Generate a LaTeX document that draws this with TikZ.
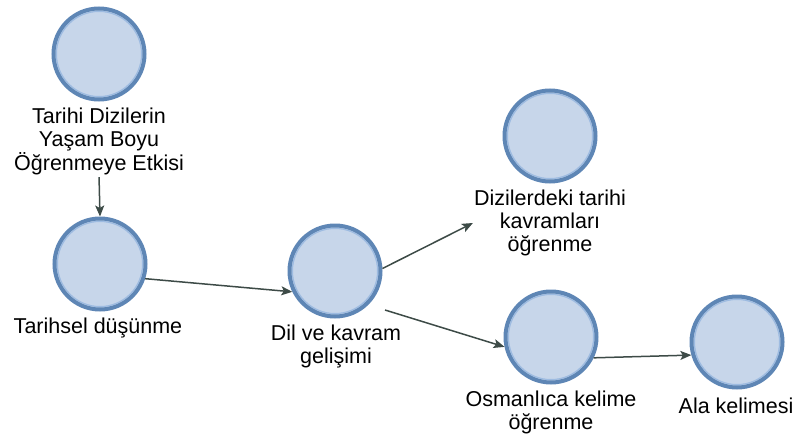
\documentclass[tikz,border=0pt]{standalone}
\usepackage{fontspec}
\setmainfont{Liberation Sans}
\usetikzlibrary{arrows.meta,calc}
\definecolor{bubfill}{HTML}{C7D6EA}
\definecolor{bubedge}{HTML}{5E86B5}
\definecolor{bubring}{HTML}{9DBBE1}
\definecolor{arrowcol}{HTML}{3D4B47}
\newcommand{\lstrut}{\rule[-4.5pt]{0pt}{23pt}}
\tikzset{
  bubble/.style={circle, minimum size=91pt, inner sep=0pt, fill=bubfill, draw=bubedge, line width=4pt,
    path picture={\draw[bubring, line width=1.2pt] (path picture bounding box.center) circle (42.6pt);}},
  lbl/.style={inner sep=0pt, align=center, font=\fontsize{21.5pt}{23pt}\selectfont},
  link/.style={draw=arrowcol, line width=1.5pt, -{Stealth[length=11pt, width=9pt, inset=2.5pt]}}
}
\begin{document}
\begin{tikzpicture}[x=1pt, y=-1pt]
\useasboundingbox (0,0) rectangle (797,439);
\node[bubble] (A) at (99,54) {};
\node[bubble] (B) at (100,264) {};
\node[bubble] (C) at (335,271) {};
\node[bubble] (D) at (550,136) {};
\node[bubble] (E) at (551,337) {};
\node[bubble] (F) at (737,342) {};
\node[lbl] (At) at (99,140) {\lstrut Tarihi Dizilerin\\\lstrut Yaşam Boyu\\\lstrut Öğrenmeye Etkisi};
\node[lbl] (Bt) at (98,327) {\lstrut Tarihsel düşünme};
\node[lbl] (Ct) at (336,345) {\lstrut Dil ve kavram\\\lstrut gelişimi};
\node[lbl] (Dt) at (550,221) {\lstrut Dizilerdeki tarihi\\\lstrut kavramları\\\lstrut öğrenme};
\node[lbl] (Et) at (551,411) {\lstrut Osmanlıca kelime\\\lstrut öğrenme};
\node[lbl] (Ft) at (736,406) {\lstrut Ala kelimesi};
\draw[link, shorten <=2pt] (At.south) -- (B.north);
\draw[link] (B.-18) -- (C.206);
\draw[link] (C.3) -- ([xshift=-1pt,yshift=-2pt]Dt.west);
\draw[link] ([shift={(50,39)}]C.center) -- (E.192);
\draw[link] (E.-26) -- (F.196);
\end{tikzpicture}
\end{document}
